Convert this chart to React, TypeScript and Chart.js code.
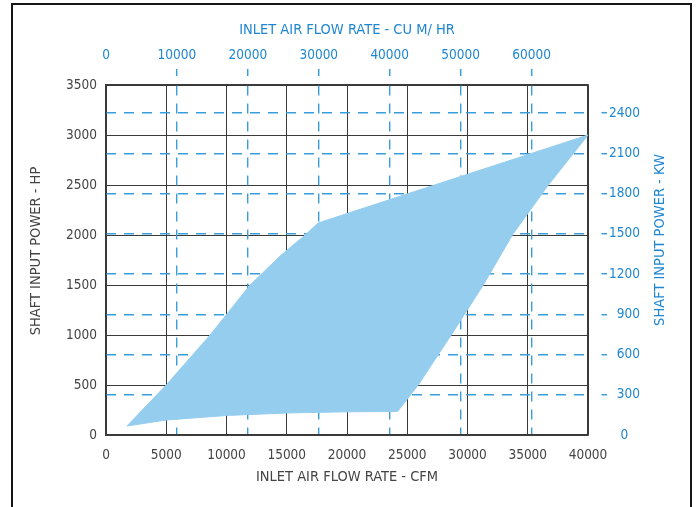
import React, { useEffect, useRef } from 'react';
import { Chart, registerables } from 'chart.js';

Chart.register(...registerables);

// ---- axis ticks ----
const cfmTicks = [0, 5000, 10000, 15000, 20000, 25000, 30000, 35000, 40000];
const hpTicks = [0, 500, 1000, 1500, 2000, 2500, 3000, 3500];
const cumHrTicks = [0, 10000, 20000, 30000, 40000, 50000, 60000];
const kwTicks = [0, 300, 600, 900, 1200, 1500, 1800, 2100, 2400];

const cfmMax = 40000;
const hpMax = 3500;
const cumHrMax = 67960; // 40000 CFM expressed in m3/hr
const kwMax = 2610; // 3500 HP expressed in kW

// ---- operating envelope (CFM, HP) ----
// upper boundary: from the low-left tip up the left curve, then to the top-right corner
const upperCfm = [1740, 5000, 8640, 11960, 14450, 16530, 17600, 40000];
const upperHp = [90, 500, 1000, 1500, 1790, 2000, 2120, 3000];
// lower boundary: from the low-left tip along the bottom, then up the right edge
const lowerCfm = [1740, 5000, 10000, 15000, 20000, 24200, 25910, 28650, 31310, 33720, 36710, 40000];
const lowerHp = [90, 150, 195, 220, 232, 235, 500, 1000, 1500, 2000, 2500, 3000];

const titleTop = 'INLET AIR FLOW RATE - CU M/ HR';
const titleBottom = 'INLET AIR FLOW RATE - CFM';
const titleLeft = 'SHAFT INPUT POWER - HP';
const titleRight = 'SHAFT INPUT POWER - KW';

const FONT = '"Liberation Sans Narrow", "Arial Narrow", "DejaVu Sans Condensed", sans-serif';
const BLUE_TEXT = '#1f86d2';
const BLUE_LINE = '#3a9ddb';
const DARK_LINE = '#3a3a3a';
const DARK_TEXT = '#444444';
const FILL = '#95cdef';
const CLEAR = 'rgba(0,0,0,0)';

function fitSize(text: string, target: number, base: number, lo: number, hi: number) {
  const c = document.createElement('canvas').getContext('2d');
  if (!c) return base;
  c.font = `${base}px ${FONT}`;
  const w = c.measureText(text).width || target;
  const s = (base * target) / w;
  return Math.max(lo, Math.min(hi, Math.round(s * 10) / 10));
}

export default function App() {
  const ref = useRef<HTMLCanvasElement | null>(null);

  useEffect(() => {
    if (!ref.current) return;
    const polygon: { x: number; y: number }[] = [];
    upperCfm.forEach((c, i) => polygon.push({ x: c, y: upperHp[i] }));
    for (let i = lowerCfm.length - 2; i >= 0; i--) polygon.push({ x: lowerCfm[i], y: lowerHp[i] });

    const titleSize = fitSize(titleBottom, 182, 16, 13, 16.5);
    const tickSize = fitSize('10000', 35, 15.5, 13.5, 15.5);
    const tLh = titleSize * 1.2;
    const kLh = tickSize * 1.2;
    const tickFont = { family: FONT, size: tickSize };
    const titleFont = { family: FONT, size: titleSize };
    const isZero = (c: any) => c.tick && c.tick.value === 0;
    const plain = (v: any) => String(v);

    const sideTitles = {
      id: 'sideTitles',
      afterDraw(chart: any) {
        const ctx = chart.ctx as CanvasRenderingContext2D;
        const draw = (text: string, color: string, x: number, y: number) => {
          ctx.save();
          ctx.font = `${titleSize}px ${FONT}`;
          ctx.textAlign = 'center';
          ctx.textBaseline = 'middle';
          ctx.fillStyle = color;
          ctx.translate(x, y);
          ctx.rotate(-Math.PI / 2);
          ctx.fillText(text, 0, 0);
          ctx.restore();
        };
        draw(titleLeft, DARK_TEXT, 36, 251);
        draw(titleRight, BLUE_TEXT, 660, 240);
      },
    };

    const chart = new Chart(ref.current, {
      type: 'scatter',
      data: {
        datasets: [
          {
            data: polygon,
            showLine: true,
            fill: 'shape',
            backgroundColor: FILL,
            borderColor: FILL,
            borderWidth: 1,
            pointRadius: 0,
            tension: 0,
          } as any,
        ],
      },
      options: {
        animation: false,
        responsive: false,
        maintainAspectRatio: false,
        layout: { padding: 0 },
        plugins: { legend: { display: false }, tooltip: { enabled: false } },
        scales: {
          x: {
            type: 'linear',
            position: 'bottom',
            min: 0,
            max: cfmMax,
            z: 1,
            afterBuildTicks: (s: any) => { s.ticks = cfmTicks.map((value) => ({ value })); },
            afterFit: (s: any) => { s.height = 72; },
            grid: { color: DARK_LINE, lineWidth: 1, drawTicks: false },
            border: { color: DARK_LINE, width: 1.5 },
            ticks: { color: DARK_TEXT, font: tickFont, padding: 20 - kLh / 2, maxRotation: 0, autoSkip: false, callback: plain },
            title: { display: true, text: titleBottom, color: DARK_TEXT, font: titleFont, padding: { top: 0, bottom: 29.5 - tLh / 2 } },
          },
          y: {
            type: 'linear',
            position: 'left',
            min: 0,
            max: hpMax,
            z: 1,
            afterBuildTicks: (s: any) => { s.ticks = hpTicks.map((value) => ({ value })); },
            afterFit: (s: any) => { s.width = 106; },
            grid: { color: DARK_LINE, lineWidth: 1, drawTicks: false },
            border: { color: DARK_LINE, width: 1.5 },
            ticks: { color: DARK_TEXT, font: tickFont, padding: 9, autoSkip: false, callback: plain },
          },
          x2: {
            type: 'linear',
            axis: 'x',
            position: 'top',
            min: 0,
            max: cumHrMax,
            z: 1,
            afterBuildTicks: (s: any) => { s.ticks = cumHrTicks.map((value) => ({ value })); },
            afterFit: (s: any) => { s.height = 85; },
            grid: {
              color: (c: any) => (isZero(c) ? CLEAR : BLUE_LINE),
              lineWidth: 1.4,
              drawTicks: true,
              tickLength: 16,
              tickWidth: 1.5,
              tickColor: (c: any) => (isZero(c) ? CLEAR : BLUE_LINE),
              tickBorderDash: [7, 20],
            },
            border: { color: DARK_LINE, width: 1.5, dash: [10, 8] },
            ticks: { color: BLUE_TEXT, font: tickFont, padding: 14 - kLh / 2, maxRotation: 0, autoSkip: false, callback: plain },
            title: { display: true, text: titleTop, color: BLUE_TEXT, font: titleFont, padding: { top: 30 - tLh / 2, bottom: 0 } },
          },
          y2: {
            type: 'linear',
            axis: 'y',
            position: 'right',
            min: 0,
            max: kwMax,
            z: 1,
            afterBuildTicks: (s: any) => { s.ticks = kwTicks.map((value) => ({ value })); },
            afterFit: (s: any) => { s.width = 108; },
            grid: {
              color: (c: any) => (isZero(c) ? CLEAR : BLUE_LINE),
              lineWidth: 1.4,
              drawTicks: true,
              tickLength: 19,
              tickWidth: 1.5,
              tickColor: (c: any) => (isZero(c) ? CLEAR : BLUE_LINE),
              tickBorderDash: [6, 13],
              tickBorderDashOffset: 6,
            },
            border: { color: DARK_LINE, width: 1.5, dash: [10, 8] },
            ticks: {
              color: BLUE_TEXT,
              font: tickFont,
              padding: 2,
              autoSkip: false,
              callback: (v: any) => (v === 0 ? '   0' : v < 1000 ? '  ' + v : String(v)),
            },
          },
        },
      } as any,
      plugins: [sideTitles],
    });
    return () => chart.destroy();
  }, []);

  return (
    <div style={{ position: 'absolute', left: 0, top: 0, width: 696, height: 507, overflow: 'hidden', background: '#ffffff' }}>
      <div style={{ position: 'absolute', left: 11, top: 3, width: 677, height: 530, border: '2px solid #161616' }} />
      <canvas ref={ref} width={696} height={507} style={{ position: 'absolute', left: 0, top: 0, width: 696, height: 507 }} />
    </div>
  );
}
